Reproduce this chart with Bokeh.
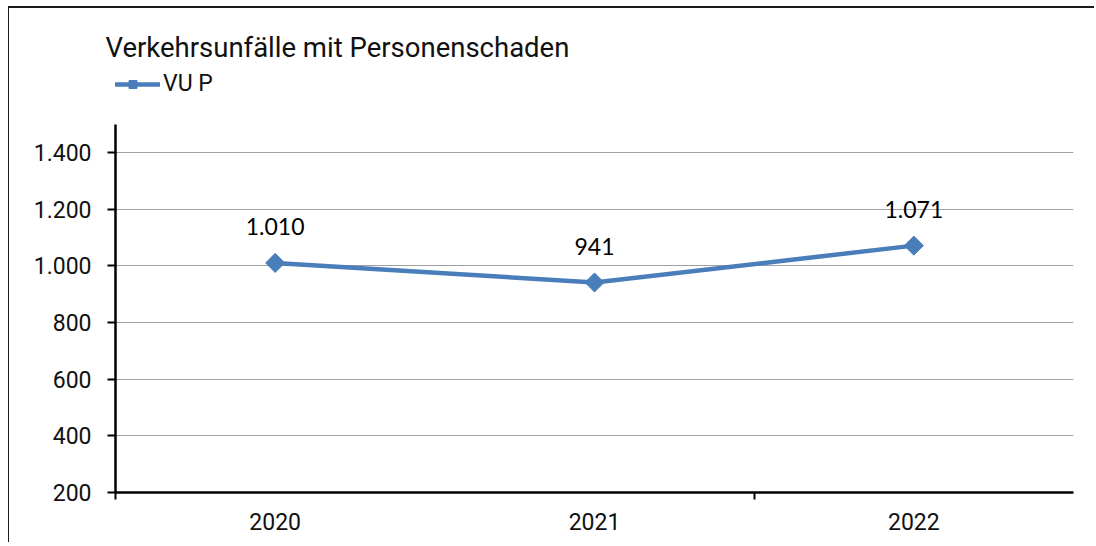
import math
from bokeh.plotting import figure
from bokeh.models import (Range1d, LinearAxis, FixedTicker,
                          ColumnDataSource, LabelSet, Legend, LegendItem, Grid)
from bokeh.core.properties import value
from bokeh.embed import file_html
from bokeh.resources import INLINE

# ---- data ----
years = ["2020", "2021", "2022"]
vu_p = [1010, 941, 1071]
series_name = "VU P"
title_text = "Verkehrsunfälle mit Personenschaden"
y_ticks = [200, 400, 600, 800, 1000, 1200, 1400]
y_tick_labels = ["200", "400", "600", "800", "1.000", "1.200", "1.400"]


def de_fmt(v):
    return f"{v:,}".replace(",", ".")


# category slots: each year occupies one unit, its centre at index + 0.5
x_pos = [i + 0.5 for i in range(len(years))]
src = ColumnDataSource(dict(x=x_pos, year=years, value=vu_p,
                            label=[de_fmt(v) for v in vu_p]))

BLUE = "#4a7ebb"
FONT = "Roboto"

p = figure(width=1086, height=536,
           x_range=Range1d(0, len(years)),
           y_range=Range1d(200, 1703),
           output_backend="svg", toolbar_location=None,
           x_axis_location=None, y_axis_location=None,
           min_border_left=106, min_border_right=22, min_border_top=58, min_border_bottom=52)
p.styles = {"margin-top": "6px", "margin-left": "8px",
            "border-top": "2px solid #1a1a1a", "border-left": "1px solid #1a1a1a"}
p.outline_line_color = None
p.background_fill_color = "white"
p.border_fill_color = "white"

# drop default grids
p.center = [c for c in p.center if not isinstance(c, Grid)]

# title
p.title.text = title_text
p.title.text_font = FONT
p.title.text_font_size = "27.5px"
p.title.text_font_style = "normal"
p.title.text_color = "#111111"
p.title.align = "left"
p.title.offset = -10
p.title.standoff = 6

# y grid
p.add_layout(Grid(dimension=1, ticker=FixedTicker(ticks=y_ticks[1:]),
                  grid_line_color="#a0a0a0", grid_line_width=1.2))

# y axis
yax = LinearAxis(ticker=FixedTicker(ticks=y_ticks), bounds=(200, 1500),
                 major_label_overrides={t: l for t, l in zip(y_ticks, y_tick_labels)},
                 axis_line_width=2.5, axis_line_color="black",
                 major_tick_out=8, major_tick_in=0, major_tick_line_width=2,
                 major_tick_line_color="black",
                 minor_tick_out=0, minor_tick_in=0,
                 major_label_standoff=16, major_label_text_font=FONT,
                 major_label_text_font_size="23px", major_label_text_color="#111111")
p.add_layout(yax, "left")

# x axis: labels at category centres, tick marks at category boundaries (every 2nd)
xax = LinearAxis(ticker=FixedTicker(ticks=x_pos, minor_ticks=[0, 2]),
                 major_label_overrides={x: y for x, y in zip(x_pos, years)},
                 axis_line_width=2.5, axis_line_color="black",
                 major_tick_out=0, major_tick_in=0,
                 minor_tick_out=7, minor_tick_in=0, minor_tick_line_width=2,
                 minor_tick_line_color="black",
                 major_label_standoff=13, major_label_text_font=FONT,
                 major_label_text_font_size="23px", major_label_text_color="#111111")
p.add_layout(xax, "below")

# series
ln = p.line(x="x", y="value", source=src, line_color=BLUE, line_width=4.5)
sc = p.scatter(x="x", y="value", source=src, marker="square", angle=math.pi / 4,
               size=13.5, fill_color=BLUE, line_color=BLUE)

labels = LabelSet(x="x", y="value", text="label", source=src, y_offset=36,
                  text_align="center", text_baseline="middle",
                  text_font=value("Lato"), text_font_size=value("23px"), text_color="black")
p.add_layout(labels)

legend = Legend(items=[LegendItem(label=series_name, renderers=[ln, sc])],
                location=(-10, 395), glyph_width=55, glyph_height=20, label_height=20,
                label_standoff=3, padding=0, margin=0, spacing=0,
                border_line_color=None, background_fill_alpha=0,
                label_text_font=FONT, label_text_font_size="23px", label_text_color="#111111")
p.add_layout(legend)

open("out.html", "w").write(file_html(p, INLINE))
